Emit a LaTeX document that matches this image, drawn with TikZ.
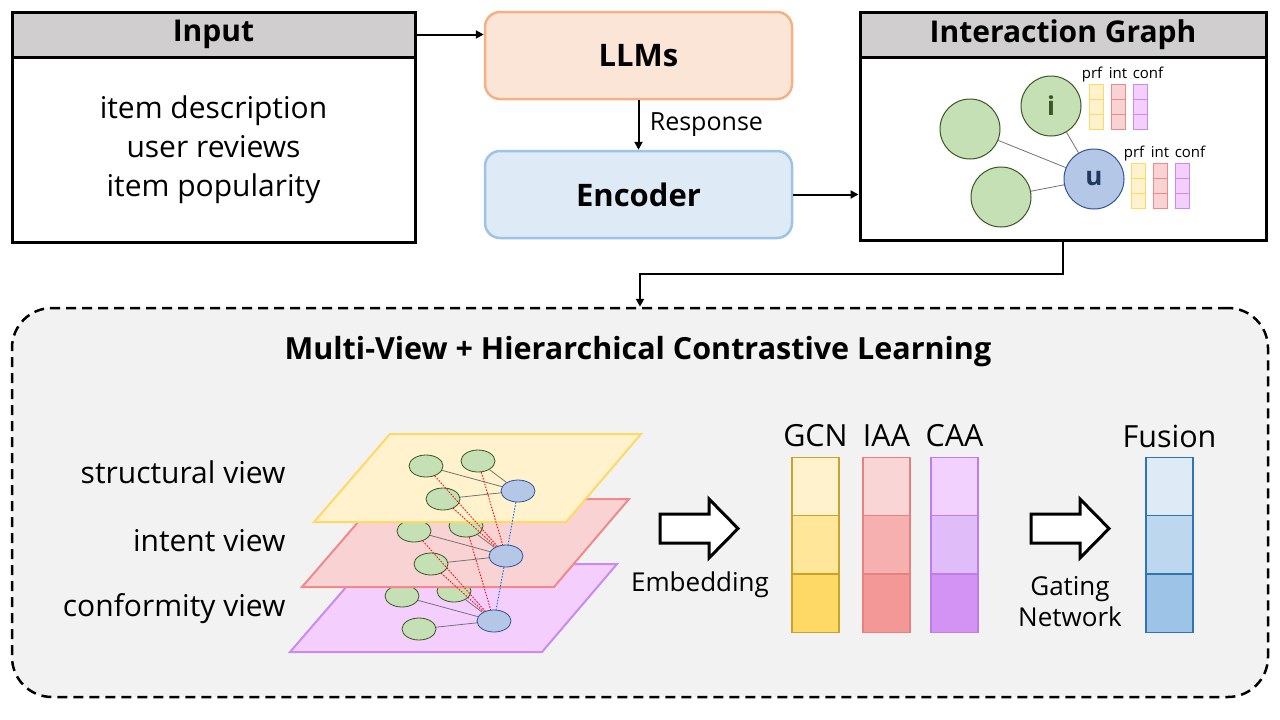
\documentclass[tikz,border=0pt]{standalone}
\usepackage{fontspec}
\setmainfont{Open Sans}
\usetikzlibrary{arrows.meta,shapes.geometric}

\definecolor{hdrgray}{HTML}{D0CECE}
\definecolor{llmfill}{HTML}{FBE5D6}
\definecolor{llmdraw}{HTML}{F4B183}
\definecolor{encfill}{HTML}{DEEBF7}
\definecolor{encdraw}{HTML}{9DC3E6}
\definecolor{greenfill}{HTML}{C5E0B4}
\definecolor{greendraw}{HTML}{385723}
\definecolor{bluefill}{HTML}{B4C7E7}
\definecolor{bluedraw}{HTML}{2F5597}
\definecolor{ufont}{HTML}{203864}
\definecolor{panel}{HTML}{F2F2F2}
\definecolor{prffill}{HTML}{FFF2CC}
\definecolor{prfdraw}{HTML}{FFD966}
\definecolor{intfill}{HTML}{F9D3D3}
\definecolor{intdraw}{HTML}{F08A8A}
\definecolor{confill}{HTML}{F4CFFE}
\definecolor{condraw}{HTML}{C98BF3}
% embedding bars
\definecolor{bar-g-1}{HTML}{FFF2CC}
\definecolor{bar-g-2}{HTML}{FFE699}
\definecolor{bar-g-3}{HTML}{FFD966}
\definecolor{bar-g-d}{HTML}{C9A227}
\definecolor{bar-i-1}{HTML}{F9D5D5}
\definecolor{bar-i-2}{HTML}{F6B0B0}
\definecolor{bar-i-3}{HTML}{F49797}
\definecolor{bar-i-d}{HTML}{E88080}
\definecolor{bar-c-1}{HTML}{F3D1FE}
\definecolor{bar-c-2}{HTML}{E0BDF8}
\definecolor{bar-c-3}{HTML}{D393F5}
\definecolor{bar-c-d}{HTML}{C07CEF}
\definecolor{bar-f-1}{HTML}{DEEBF7}
\definecolor{bar-f-2}{HTML}{BDD7EE}
\definecolor{bar-f-3}{HTML}{9DC3E6}
\definecolor{bar-f-d}{HTML}{2E75B6}

\tikzset{
  hdrbox/.style={draw,line width=3pt,fill=hdrgray,minimum height=45pt,
    font=\fontsize{30}{34}\selectfont\bfseries},
  bodybox/.style={draw,line width=3pt,fill=white,align=center,
    font=\fontsize{30}{39}\selectfont},
  roundbox/.style={draw,line width=2.5pt,rounded corners=15pt,
    minimum width=307pt,minimum height=87pt,
    font=\fontsize{31}{34}\selectfont\bfseries},
  conn/.style={draw,line width=2pt,-{Triangle[length=8pt,width=8pt]}},
  gcirc/.style={circle,draw=greendraw,fill=greenfill,line width=1pt,
    minimum size=60pt,inner sep=0pt},
  ucirc/.style={circle,draw=bluedraw,fill=bluefill,line width=1pt,
    minimum size=60pt,inner sep=0pt},
  minicell/.style={draw,line width=1pt,minimum width=14pt,minimum height=15pt,
    inner sep=0pt},
  minilabel/.style={anchor=base,font=\fontsize{15}{17}\selectfont},
  plane/.style={line width=2pt},
  gnode/.style={ellipse,draw=greendraw,fill=greenfill,line width=0.8pt,
    minimum width=34pt,minimum height=22pt,inner sep=0pt},
  unode/.style={ellipse,draw=bluedraw,fill=bluefill,line width=0.8pt,
    minimum width=34pt,minimum height=22pt,inner sep=0pt},
  edge/.style={draw=black!55,line width=0.8pt},
  reddot/.style={draw=red,line width=0.9pt,dash pattern=on 1.5pt off 1.5pt},
  bluedot/.style={draw=blue!60!cyan,line width=0.9pt,dash pattern=on 1.5pt off 1.5pt},
  barcell/.style={line width=1.2pt,minimum width=47pt,minimum height=58.3pt,
    inner sep=0pt},
  bigtext/.style={font=\fontsize{30}{34}\selectfont},
  blockarrow/.style={draw,line width=3pt,fill=white,line join=miter}
}

\begin{document}
\begin{tikzpicture}[x=1pt,y=-1pt]
  \useasboundingbox[fill=white] (0,0) rectangle (1280,720);

  % Input box
  \node[bodybox,minimum width=403pt,minimum height=185pt] (inbody) at (213.5,149.5)
    {item description\\user reviews\\item popularity};
  \node[hdrbox,minimum width=403pt] (inhead) at (213.5,34.5) {Input};

  % LLMs and encoder
  \node[roundbox,draw=llmdraw,fill=llmfill] (llm) at (638.5,55.5) {LLMs};
  \node[roundbox,draw=encdraw,fill=encfill] (enc) at (638.5,194.5) {Encoder};

  % Interaction graph box
  \node[bodybox,minimum width=406pt,minimum height=183pt] (igbody) at (1063,148.5) {};
  \node[hdrbox,minimum width=406pt] (ighead) at (1063,34.5) {Interaction Graph};

  \node[gcirc] (gl) at (970,129) {};
  \node[gcirc,font=\fontsize{26}{28}\selectfont\bfseries,text=greendraw] (gi) at (1051,106) {i};
  \node[gcirc] (gb) at (1001,197) {};
  \node[ucirc,font=\fontsize{26}{28}\selectfont\bfseries,text=ufont] (gu) at (1094,179) {u};
  \draw[edge] (gl) -- (gu);
  \draw[edge] (gi) -- (gu);
  \draw[edge] (gb) -- (gu);

  % small preference / intent / conformity vectors
  \foreach \sx/\sy in {1089/84,1131/163} {
    \foreach \cx/\cf/\cd/\lx/\lab in {0/prffill/prfdraw/3/prf,22/intfill/intdraw/29/int,44/confill/condraw/59/conf} {
      \foreach \k in {0,1,2}
        \node[minicell,fill=\cf,draw=\cd] at (\sx+\cx+7,\sy+\k*15+7.5) {};
      \node[minilabel] at (\sx+\lx,\sy-6) {\lab};
    }
  }

  % connectors of the top row
  \draw[conn] (inhead.east) -- (inhead.east -| llm.west);
  \draw[conn] (llm.south) -- node[right=7pt,font=\fontsize{25}{28}\selectfont] {Response} (enc.north);
  \draw[conn] (enc.east) -- (enc.east -| igbody.west);

  % Multi-view panel
  \node[draw,line width=2.5pt,dash pattern=on 10pt off 6pt,rounded corners=40pt,fill=panel,
    minimum width=1256pt,minimum height=389pt] (mvbox) at (640,502.5) {};
  \draw[conn] (igbody.south) -- ++(0,32) -| (mvbox.north);
  \node[font=\fontsize{30.5}{34}\selectfont\bfseries] (mvtitle) at (638,352)
    {Multi-View + Hierarchical Contrastive Learning};

  \node[bigtext,anchor=east] (lab-s) at (289,472) {structural view};
  \node[bigtext,anchor=east] (lab-t) at (289,541) {intent view};
  \node[bigtext,anchor=east] (lab-c) at (289,609) {conformity view};

  % stacked views, bottom first
  \foreach \v/\dx/\dy/\pf/\pd in {c/-24/130/confill/condraw,t/-12/65/intfill/intdraw,s/0/0/prffill/prfdraw} {
    \begin{scope}[shift={(\dx,\dy)}]
      \draw[plane,fill=\pf,draw=\pd] (390,434) -- (641,434) -- (566,522) -- (314,522) -- cycle;
      \node[gnode] (\v-1) at (426,466) {};
      \node[gnode] (\v-2) at (478,461) {};
      \node[gnode] (\v-3) at (443,499) {};
      \node[unode] (\v-u) at (518,491) {};
      \foreach \i in {1,2,3}
        \draw[edge] (\v-\i) -- (\v-u);
    \end{scope}
  }
  \foreach \i in {1,2,3} {
    \draw[reddot] (s-\i) -- (t-u);
    \draw[reddot] (t-\i) -- (c-u);
  }
  \draw[bluedot] (s-u) -- (t-u);
  \draw[bluedot] (t-u) -- (c-u);

  % block arrows
  \foreach \ax in {-371,0}
    \draw[blockarrow,shift={(\ax,0)}] (1031,514) -- (1080,514) -- (1080,499) -- (1109,528.5)
      -- (1080,558) -- (1080,543) -- (1031,543) -- cycle;
  \node[font=\fontsize{26}{30}\selectfont] (embtext) at (700,585) {Embedding};
  \node[font=\fontsize{26}{31}\selectfont,align=center] (gatetext) at (1070,602) {Gating\\Network};

  % embedding bars
  \foreach \b/\x/\name in {g/815.5/GCN,i/886.5/IAA,c/954.5/CAA,f/1169.5/Fusion} {
    \foreach \k in {1,2,3}
      \node[barcell,fill=bar-\b-\k,draw=bar-\b-d] (bar-\b-\k) at (\x,428.3+\k*58.3) {};
    \node[font=\fontsize{30.5}{34}\selectfont] (name-\b) at (\x,436) {\name};
  }
\end{tikzpicture}
\end{document}
